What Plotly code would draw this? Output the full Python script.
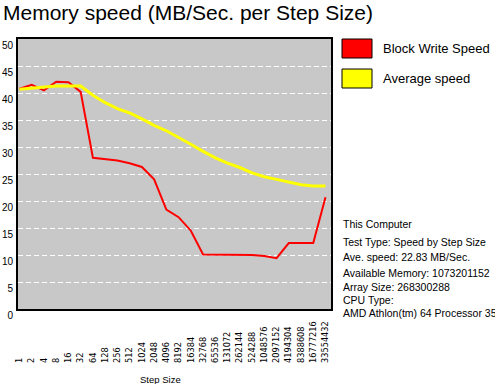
import plotly.graph_objects as go

step_sizes = ["1", "2", "4", "8", "16", "32", "64", "128", "256", "512", "1024", "2048",
              "4096", "8192", "16384", "32768", "65536", "131072", "262144", "524288",
              "1048576", "2097152", "4194304", "8388608", "16777216", "33554432"]
block_write_speed = [40.8, 41.5, 40.5, 42.1, 42.0, 40.2, 28.0, 27.8, 27.5, 27.0, 26.3, 24.0,
                     18.4, 17.0, 14.5, 10.1, 10.1, 10.1, 10.1, 10.0, 9.8, 9.4, 12.2, 12.2, 12.2, 20.7]
average_speed = [40.7, 40.9, 41.0, 41.3, 41.3, 41.3, 39.6, 38.2, 37.1, 36.3, 35.2, 34.0,
                 33.0, 31.8, 30.5, 29.2, 28.0, 27.0, 26.2, 25.2, 24.5, 24.0, 23.5, 23.0, 22.8, 22.8]
info_lines = ["This Computer", "Test Type: Speed by Step Size", "Ave. speed: 22.83 MB/Sec.",
              "Available Memory: 1073201152", "Array Size: 268300288", "CPU Type:",
              "AMD Athlon(tm) 64 Processor 3500+"]

W, H = 495, 384
L, R, T, B = 18, 331, 39, 309
FONT = "Liberation Sans, Arial, sans-serif"


def px(x):
    return (x - L) / (R - L)


def py(y):
    return (B - y) / (B - T)


idx = list(range(len(step_sizes)))
maxlen = max(len(s) for s in step_sizes)
ticktext = [s + "\u2007" * (maxlen - len(s)) for s in step_sizes]

fig = go.Figure()
fig.add_trace(go.Scatter(x=idx, y=block_write_speed, mode="lines", name="Block Write Speed",
                         line=dict(color="#FF0000", width=2)))
fig.add_trace(go.Scatter(x=idx, y=average_speed, mode="lines", name="Average speed",
                         line=dict(color="#FFFF00", width=3)))

fig.update_layout(
    width=W, height=H,
    margin=dict(l=L, r=W - R, t=T, b=H - B, pad=0, autoexpand=False),
    paper_bgcolor="white", plot_bgcolor="#C8C8C8",
    showlegend=False,
    font=dict(family=FONT, color="black"),
    title=dict(text="Memory speed (MB/Sec. per Step Size)", x=3 / W, xanchor="left",
               xref="container", yref="container", y=1 - 13 / H, yanchor="middle",
               automargin=False,
               font=dict(size=21, family=FONT, color="black")),
)
fig.update_xaxes(range=[-0.12, 25.45], tickmode="array", tickvals=idx, ticktext=ticktext,
                 tickangle=-90, tickfont=dict(size=8.2, family="DejaVu Sans"), showgrid=False,
                 zeroline=False, showline=True, linecolor="black", linewidth=2, mirror=True,
                 ticks="", ticklabelstandoff=7, automargin=False)
fig.update_yaxes(range=[0, 50], tickmode="array", tickvals=list(range(0, 51, 5)),
                 tickfont=dict(size=10, family=FONT), showgrid=True, gridcolor="white",
                 griddash="5px,3px", gridwidth=1, zeroline=False, showline=True,
                 linecolor="black", linewidth=2, mirror=True, ticks="", ticklabelshift=6,
                 ticklabelstandoff=1, automargin=False)

# legend swatches
for (y0, y1, col, label) in [(39, 58, "#FF0000", "Block Write Speed"),
                             (69, 88, "#FFFF00", "Average speed")]:
    fig.add_shape(type="rect", xref="paper", yref="paper", x0=px(342), x1=px(372),
                  y0=py(y1), y1=py(y0), fillcolor=col, line=dict(color="black", width=1))
    fig.add_annotation(xref="paper", yref="paper", x=px(381), y=py((y0 + y1) / 2),
                       text=label, showarrow=False, xanchor="left", yanchor="middle",
                       font=dict(size=13, family=FONT, color="black"))

# info text
info_y = [224.3, 241.7, 257.3, 272.7, 286.7, 300, 313.3]
for txt, yy in zip(info_lines, info_y):
    fig.add_annotation(xref="paper", yref="paper", x=px(341), y=py(yy), text=txt,
                       showarrow=False, xanchor="left", yanchor="middle",
                       font=dict(size=10.5, family=FONT, color="black"))

fig.add_annotation(xref="paper", yref="paper", x=px(160), y=py(379), text="Step Size",
                   showarrow=False, xanchor="center", yanchor="middle",
                   font=dict(size=9.5, family=FONT, color="black"))

fig.write_html("out.html", config={"displayModeBar": False},
               post_script="document.body.style.margin='0';")
